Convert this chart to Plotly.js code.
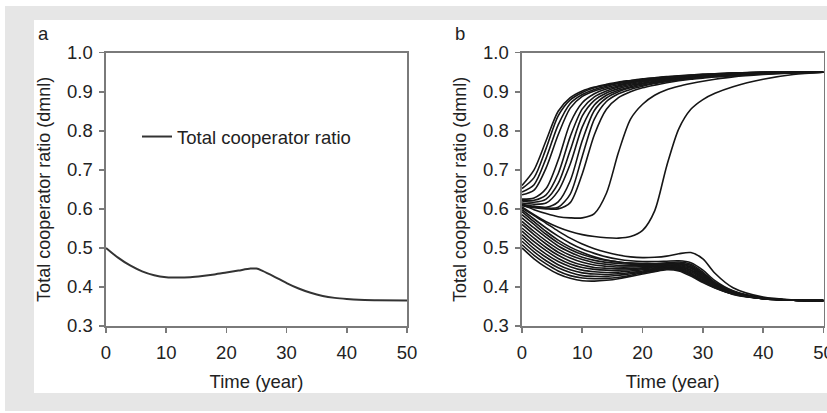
<!DOCTYPE html>
<html>
<head>
<meta charset="utf-8">
<script src="https://cdn.plot.ly/plotly-3.0.0.min.js"></script>
<style>
  html, body { margin: 0; padding: 0; background: #ffffff; width: 827px; height: 413px; overflow: hidden; }
  #bg { position: absolute; left: 5px; top: 6px; width: 822px; height: 405px; background: #e6e6e6; }
  #panel { position: absolute; left: 34px; top: 20px; width: 793px; height: 373px; background: #ffffff; }
  #chart { position: absolute; left: 0; top: 0; width: 827px; height: 413px; }
</style>
</head>
<body>
<div id="bg"></div>
<div id="panel"></div>
<div id="chart"></div>
<script>
// ---- data ----
const timeA = [0, 2, 4, 6, 8, 10, 12, 14, 16, 18, 20, 22, 24, 25, 26, 28, 30, 32, 34, 36, 38, 40, 42, 45, 50];
const totalCooperatorA = [0.50, 0.475, 0.455, 0.44, 0.43, 0.425, 0.424, 0.425, 0.428, 0.432, 0.437, 0.442, 0.447, 0.447, 0.441, 0.426, 0.41, 0.396, 0.385, 0.377, 0.372, 0.369, 0.367, 0.366, 0.365];

const timeB = [0, 2, 4, 6, 8, 10, 12, 14, 16, 18, 20, 22, 24, 26, 28, 30, 32, 35, 40, 45, 50];

// runs that rise to the high equilibrium
const runA1 = [0.66, 0.70, 0.775, 0.85, 0.885, 0.902, 0.912, 0.919, 0.925, 0.929, 0.933, 0.936, 0.939, 0.941, 0.943, 0.945, 0.946, 0.948, 0.95, 0.95, 0.95];
const runA2 = [0.652, 0.68, 0.755, 0.838, 0.879, 0.898, 0.91, 0.917, 0.923, 0.928, 0.932, 0.935, 0.938, 0.94, 0.942, 0.944, 0.946, 0.948, 0.95, 0.95, 0.95];
const runA3 = [0.643, 0.662, 0.73, 0.815, 0.87, 0.893, 0.906, 0.914, 0.921, 0.926, 0.93, 0.934, 0.937, 0.939, 0.942, 0.943, 0.945, 0.947, 0.95, 0.95, 0.95];
const runA4 = [0.636, 0.648, 0.705, 0.79, 0.858, 0.888, 0.902, 0.911, 0.918, 0.924, 0.929, 0.933, 0.936, 0.939, 0.941, 0.943, 0.945, 0.947, 0.95, 0.95, 0.95];
const runB1 = [0.625, 0.628, 0.652, 0.725, 0.82, 0.872, 0.895, 0.907, 0.915, 0.922, 0.927, 0.931, 0.935, 0.938, 0.94, 0.942, 0.944, 0.947, 0.949, 0.95, 0.95];
const runB2 = [0.622, 0.622, 0.636, 0.69, 0.785, 0.856, 0.887, 0.902, 0.912, 0.919, 0.925, 0.929, 0.933, 0.936, 0.939, 0.941, 0.943, 0.946, 0.949, 0.95, 0.95];
const runB3 = [0.62, 0.617, 0.625, 0.665, 0.75, 0.838, 0.878, 0.897, 0.908, 0.916, 0.922, 0.927, 0.931, 0.935, 0.938, 0.94, 0.942, 0.945, 0.948, 0.95, 0.95];
const runB4 = [0.615, 0.612, 0.615, 0.646, 0.715, 0.81, 0.866, 0.891, 0.904, 0.913, 0.92, 0.925, 0.93, 0.934, 0.937, 0.939, 0.941, 0.944, 0.948, 0.95, 0.95];
const runB5 = [0.612, 0.607, 0.604, 0.618, 0.672, 0.775, 0.852, 0.884, 0.90, 0.91, 0.917, 0.923, 0.928, 0.932, 0.935, 0.938, 0.94, 0.943, 0.947, 0.949, 0.95];
const runB6 = [0.61, 0.605, 0.602, 0.604, 0.638, 0.735, 0.83, 0.875, 0.895, 0.906, 0.914, 0.921, 0.926, 0.93, 0.934, 0.937, 0.939, 0.942, 0.946, 0.949, 0.95];
const runB7 = [0.608, 0.603, 0.60, 0.60, 0.616, 0.69, 0.79, 0.855, 0.885, 0.90, 0.91, 0.917, 0.923, 0.928, 0.932, 0.935, 0.938, 0.941, 0.946, 0.949, 0.95];
const runU2 = [0.61, 0.598, 0.588, 0.58, 0.577, 0.577, 0.588, 0.64, 0.745, 0.83, 0.868, 0.891, 0.905, 0.914, 0.921, 0.927, 0.932, 0.938, 0.944, 0.948, 0.95];
const runU1 = [0.605, 0.585, 0.567, 0.553, 0.542, 0.534, 0.529, 0.526, 0.525, 0.529, 0.545, 0.595, 0.71, 0.805, 0.855, 0.88, 0.896, 0.913, 0.932, 0.944, 0.95];

// runs that fall to the low equilibrium
const runL1 = [0.602, 0.583, 0.563, 0.543, 0.525, 0.51, 0.498, 0.489, 0.482, 0.477, 0.475, 0.476, 0.479, 0.485, 0.488, 0.472, 0.435, 0.398, 0.374, 0.367, 0.365];
const runL2 = [0.598, 0.574, 0.551, 0.53, 0.512, 0.497, 0.486, 0.477, 0.471, 0.467, 0.465, 0.465, 0.466, 0.467, 0.462, 0.443, 0.416, 0.39, 0.372, 0.366, 0.365];
const runL3 = [0.593, 0.567, 0.542, 0.52, 0.502, 0.488, 0.477, 0.469, 0.464, 0.461, 0.46, 0.46, 0.462, 0.464, 0.458, 0.438, 0.412, 0.389, 0.371, 0.366, 0.365];
const runL4 = [0.585, 0.56, 0.535, 0.513, 0.496, 0.483, 0.474, 0.468, 0.464, 0.461, 0.46, 0.459, 0.46, 0.461, 0.455, 0.435, 0.41, 0.388, 0.371, 0.366, 0.365];
const runL5 = [0.577, 0.551, 0.527, 0.505, 0.489, 0.476, 0.468, 0.463, 0.46, 0.458, 0.457, 0.457, 0.458, 0.459, 0.452, 0.433, 0.409, 0.387, 0.371, 0.366, 0.365];
const runL6 = [0.568, 0.542, 0.518, 0.497, 0.481, 0.47, 0.462, 0.458, 0.455, 0.454, 0.455, 0.455, 0.457, 0.457, 0.45, 0.43, 0.407, 0.387, 0.371, 0.366, 0.365];
const runL7 = [0.56, 0.534, 0.51, 0.489, 0.474, 0.463, 0.456, 0.453, 0.451, 0.451, 0.452, 0.453, 0.455, 0.455, 0.447, 0.428, 0.406, 0.386, 0.371, 0.366, 0.365];
const runL8 = [0.551, 0.525, 0.501, 0.481, 0.466, 0.456, 0.45, 0.448, 0.447, 0.447, 0.449, 0.451, 0.454, 0.453, 0.444, 0.425, 0.405, 0.385, 0.371, 0.366, 0.365];
const runL9 = [0.543, 0.516, 0.493, 0.473, 0.459, 0.45, 0.445, 0.443, 0.443, 0.444, 0.447, 0.449, 0.452, 0.451, 0.442, 0.423, 0.404, 0.385, 0.37, 0.366, 0.365];
const runL10 = [0.534, 0.507, 0.484, 0.465, 0.452, 0.443, 0.439, 0.437, 0.438, 0.441, 0.444, 0.447, 0.45, 0.449, 0.439, 0.421, 0.402, 0.384, 0.37, 0.366, 0.365];
const runL11 = [0.526, 0.498, 0.476, 0.457, 0.444, 0.436, 0.433, 0.432, 0.434, 0.437, 0.441, 0.445, 0.449, 0.447, 0.436, 0.418, 0.401, 0.383, 0.37, 0.366, 0.365];
const runL12 = [0.517, 0.49, 0.467, 0.449, 0.437, 0.429, 0.427, 0.427, 0.43, 0.434, 0.438, 0.443, 0.447, 0.445, 0.433, 0.416, 0.40, 0.382, 0.37, 0.366, 0.365];
const runL13 = [0.508, 0.481, 0.459, 0.441, 0.429, 0.423, 0.421, 0.422, 0.425, 0.43, 0.436, 0.441, 0.446, 0.443, 0.431, 0.413, 0.398, 0.382, 0.37, 0.366, 0.365];
const runL14 = [0.50, 0.472, 0.45, 0.433, 0.422, 0.416, 0.415, 0.417, 0.421, 0.427, 0.433, 0.439, 0.444, 0.441, 0.428, 0.411, 0.397, 0.381, 0.37, 0.366, 0.365];

const panelBRuns = [runA1, runA2, runA3, runA4, runB1, runB2, runB3, runB4, runB5, runB6, runB7, runU2, runU1,
  runL1, runL2, runL3, runL4, runL5, runL6, runL7, runL8, runL9, runL10, runL11, runL12, runL13, runL14];

const yTicks = [0.3, 0.4, 0.5, 0.6, 0.7, 0.8, 0.9, 1.0];
const yTickText = ['0.3', '0.4', '0.5', '0.6', '0.7', '0.8', '0.9', '1.0'];
const xTicks = [0, 10, 20, 30, 40, 50];

// ---- traces ----
const traces = [];
traces.push({
  x: timeA, y: totalCooperatorA, xaxis: 'x', yaxis: 'y', type: 'scatter', mode: 'lines',
  name: 'Total cooperator ratio', showlegend: true,
  line: { color: '#333333', width: 2, shape: 'spline', smoothing: 0.8 }
});
panelBRuns.forEach(function (run) {
  traces.push({
    x: timeB, y: run, xaxis: 'x2', yaxis: 'y2', type: 'scatter', mode: 'lines',
    showlegend: false, hoverinfo: 'skip',
    line: { color: '#161616', width: 1.6, shape: 'spline', smoothing: 0.8 }
  });
});

const fontFam = 'Liberation Sans, Arial, sans-serif';
const axisCommon = {
  showline: true, linecolor: '#7a7a7a', linewidth: 1.6, mirror: true,
  ticks: 'outside', ticklen: 5, tickwidth: 1.6, tickcolor: '#7a7a7a',
  showgrid: false, zeroline: false, ticklabeloverflow: 'allow',
  tickfont: { family: fontFam, size: 18.5, color: '#222222' }
};

function xAxis(domain, anchor) {
  return Object.assign({}, axisCommon, {
    domain: domain, anchor: anchor, range: [0, 50], tickmode: 'array', tickvals: xTicks,
    ticklabelstandoff: 4,
    title: { text: 'Time (year)', font: { family: fontFam, size: 18.5, color: '#222222' }, standoff: 13 }
  });
}
function yAxis(anchor) {
  return Object.assign({}, axisCommon, {
    domain: [0.2107, 0.8724], anchor: anchor, range: [0.3, 1.0], tickmode: 'array',
    tickvals: yTicks, ticktext: yTickText, ticklabelstandoff: 3,
    title: { text: 'Total cooperator ratio (dmnl)', font: { family: fontFam, size: 18, color: '#222222' }, standoff: 11 }
  });
}

const layout = {
  width: 827, height: 413,
  margin: { l: 0, r: 0, t: 0, b: 0 },
  paper_bgcolor: 'rgba(0,0,0,0)', plot_bgcolor: '#ffffff',
  font: { family: fontFam, size: 18, color: '#222222' },
  xaxis: xAxis([106 / 827, 407 / 827], 'y'),
  yaxis: yAxis('x'),
  xaxis2: xAxis([522 / 827, 823.5 / 827], 'y2'),
  yaxis2: yAxis('x2'),
  showlegend: true,
  legend: {
    x: 137 / 827, xanchor: 'left', y: (413 - 137) / 413, yanchor: 'middle',
    bgcolor: 'rgba(0,0,0,0)', borderwidth: 0,
    font: { family: fontFam, size: 18.5, color: '#222222' }
  },
  annotations: [
    { text: 'a', xref: 'paper', yref: 'paper', x: 36 / 827, y: (413 - 21) / 413, xanchor: 'left', yanchor: 'top', showarrow: false, font: { family: fontFam, size: 18.5, color: '#222222' } },
    { text: 'b', xref: 'paper', yref: 'paper', x: 453 / 827, y: (413 - 21) / 413, xanchor: 'left', yanchor: 'top', showarrow: false, font: { family: fontFam, size: 18.5, color: '#222222' } }
  ]
};

Plotly.newPlot('chart', traces, layout, { staticPlot: true, displayModeBar: false });
</script>
</body>
</html>
